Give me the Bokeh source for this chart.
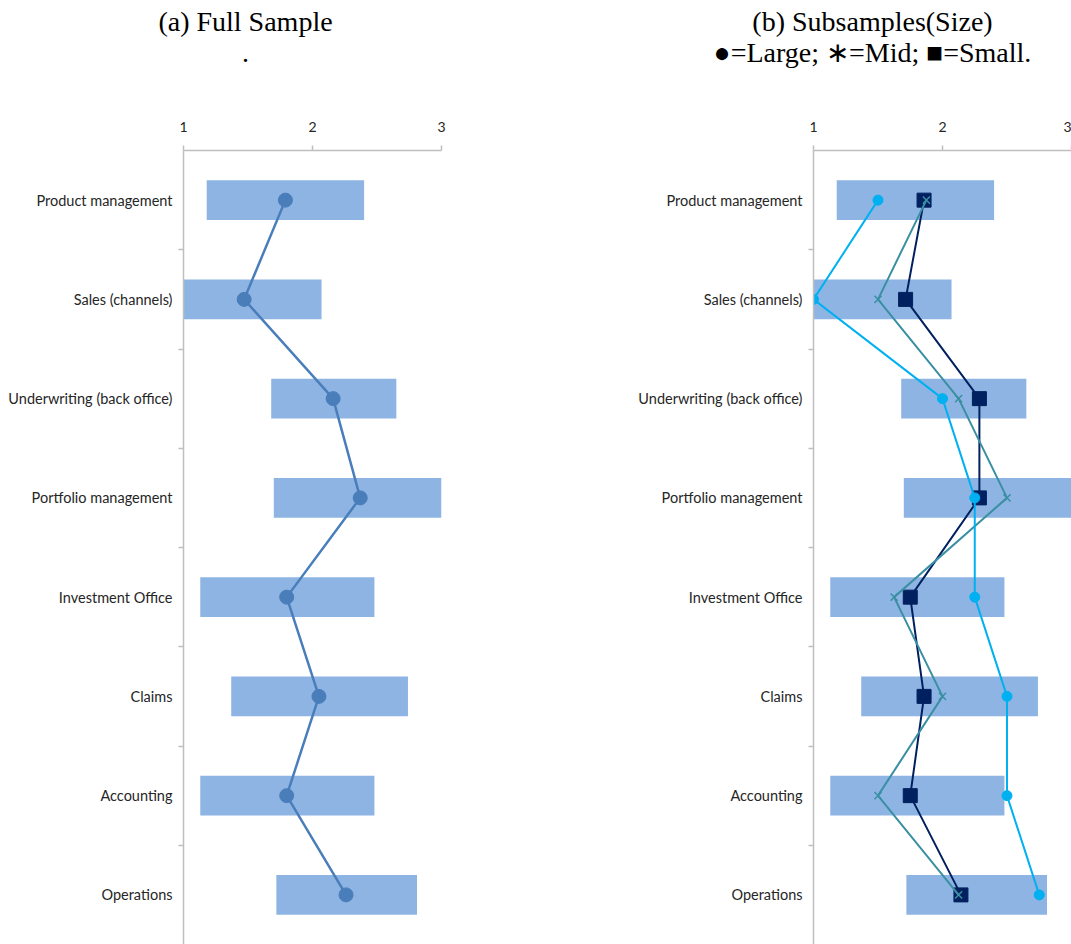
from bokeh.plotting import figure
from bokeh.models import Range1d, LinearAxis, FixedTicker
from bokeh.layouts import row, column
from bokeh.core.properties import value
from bokeh.embed import file_html
from bokeh.resources import INLINE

# Activities, listed top to bottom
activities = [
    "Product management",
    "Sales (channels)",
    "Underwriting (back office)",
    "Portfolio management",
    "Investment Office",
    "Claims",
    "Accounting",
    "Operations",
]

# Range of responses per activity (bar extents)
range_low = [1.18, 1.00, 1.68, 1.70, 1.13, 1.37, 1.13, 1.72]
range_high = [2.40, 2.07, 2.65, 3.00, 2.48, 2.74, 2.48, 2.81]

# Mean scores
full_sample = [1.79, 1.47, 2.16, 2.37, 1.80, 2.05, 1.80, 2.26]
large = [1.50, 1.00, 2.00, 2.25, 2.25, 2.50, 2.50, 2.75]
mid = [1.875, 1.50, 2.125, 2.50, 1.625, 2.00, 1.50, 2.125]
small = [1.857, 1.714, 2.286, 2.286, 1.75, 1.857, 1.75, 2.143]

x_ticks = [1, 2, 3]

title_a = ["(a) Full Sample", "."]
title_b = ["(b) Subsamples(Size)", "\u25cf=Large; \u2217=Mid; \u25a0=Small."]

BAR = "#8DB4E2"
FULL = "#4A7EBB"
LARGE = "#00B0F0"
MID = "#3A8FA3"
SMALL = "#002060"
AXIS = "#BFBFBF"
LABEL_FONT = "Lato"
TITLE_FONT = "Liberation Serif"

W, H = 1071, 944
HEAD = 80

n = len(activities)
centres = [i + 0.5 for i in range(n)]
bounds = [i for i in range(1, n)]


def make_panel(border_left, border_right):
    p = figure(
        frame_width=258, frame_height=H - 150,
        min_border_left=border_left, min_border_right=border_right,
        min_border_top=150 - HEAD, min_border_bottom=0,
        x_range=Range1d(1, 3), y_range=Range1d(n, 0),
        x_axis_location=None, y_axis_location=None,
        toolbar_location=None, output_backend="svg",
    )
    p.outline_line_color = None
    p.xgrid.visible = False
    p.ygrid.visible = False

    xaxis = LinearAxis(ticker=FixedTicker(ticks=x_ticks))
    xaxis.axis_line_color = AXIS
    xaxis.axis_line_width = 1.5
    xaxis.major_tick_line_color = AXIS
    xaxis.major_tick_line_width = 1.5
    xaxis.major_tick_out = 5
    xaxis.major_tick_in = 0
    xaxis.minor_tick_line_color = None
    xaxis.major_label_standoff = 14
    xaxis.major_label_text_font = LABEL_FONT
    xaxis.major_label_text_font_size = "14px"
    xaxis.major_label_text_color = "#262626"
    p.add_layout(xaxis, "above")

    yaxis = LinearAxis(ticker=FixedTicker(ticks=centres, minor_ticks=bounds))
    yaxis.major_label_overrides = {c: a for c, a in zip(centres, activities)}
    yaxis.axis_line_color = AXIS
    yaxis.axis_line_width = 1.5
    yaxis.major_tick_line_color = None
    yaxis.major_tick_out = 0
    yaxis.major_tick_in = 0
    yaxis.minor_tick_line_color = AXIS
    yaxis.minor_tick_line_width = 1.5
    yaxis.minor_tick_out = 5
    yaxis.minor_tick_in = 0
    yaxis.major_label_standoff = 6
    yaxis.major_label_text_font = LABEL_FONT
    yaxis.major_label_text_font_size = "14.5px"
    yaxis.major_label_text_color = "#262626"
    p.add_layout(yaxis, "left")

    p.hbar(y=centres, left=range_low, right=range_high, height=0.4,
           fill_color=BAR, line_color=None)
    return p


# Panel captions drawn in a header strip above the two panels
head = figure(
    width=W, height=HEAD, x_range=Range1d(0, W), y_range=Range1d(HEAD, 0),
    x_axis_location=None, y_axis_location=None, min_border=0,
    toolbar_location=None, output_backend="svg",
)
head.outline_line_color = None
head.xgrid.visible = False
head.ygrid.visible = False
head.text(x=[245, 245, 872, 872], y=[21, 52, 21, 52],
          text=title_a + title_b,
          text_align="center", text_baseline="middle",
          text_font=value(TITLE_FONT), text_font_size="28px", text_color="black")

# (a) full sample
pa = make_panel(183, 49)
pa.line(full_sample, centres, line_color=FULL, line_width=2.5)
pa.scatter(full_sample, centres, marker="circle", size=14,
           fill_color=FULL, line_color=FULL)

# (b) subsamples by size
pb = make_panel(323, 0)
pb.line(small, centres, line_color=SMALL, line_width=2)
pb.scatter(small, centres, marker="square", size=14,
           fill_color=SMALL, line_color=SMALL)
pb.line(mid, centres, line_color=MID, line_width=2)
pb.scatter(mid, centres, marker="x", size=10, line_color=MID, line_width=1.5)
pb.line(large, centres, line_color=LARGE, line_width=2)
pb.scatter(large, centres, marker="circle", size=10,
           fill_color=LARGE, line_color=LARGE)

layout = column(head, row(pa, pb, spacing=0), spacing=0)

with open("out.html", "w") as f:
    f.write(file_html(layout, INLINE))
